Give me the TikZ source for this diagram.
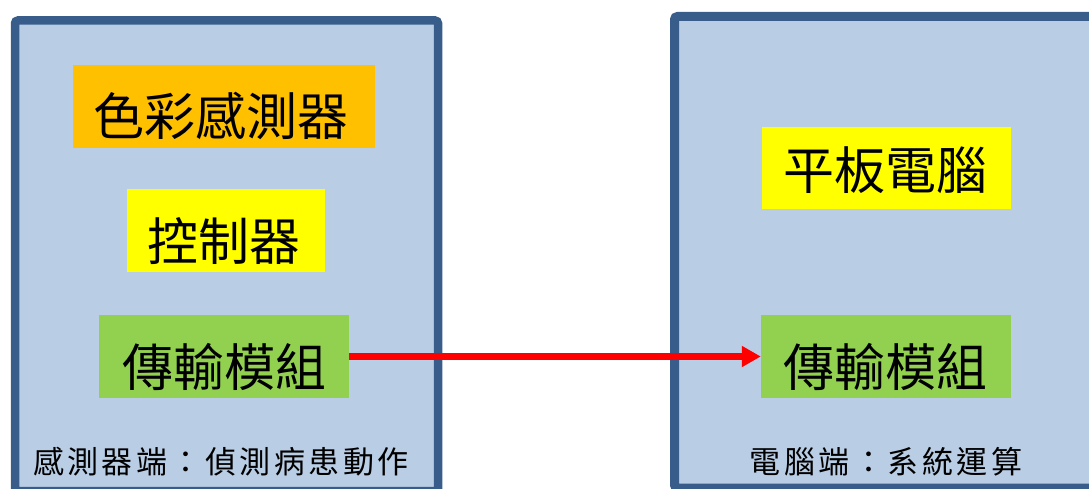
\documentclass[tikz,border=0pt]{standalone}
\usepackage{fontspec}
\newfontfamily\cjk{Noto Sans CJK TC}
\usetikzlibrary{arrows.meta}
\definecolor{panelfill}{HTML}{B9CDE5}
\definecolor{panelline}{HTML}{385D8A}
\definecolor{boxorange}{HTML}{FFC000}
\definecolor{boxyellow}{HTML}{FFFF00}
\definecolor{boxgreen}{HTML}{92D050}
\definecolor{arrowred}{HTML}{FF0000}
\newcommand{\gp}{\hspace{3.5pt}}
\begin{document}
\begin{tikzpicture}[x=1pt,y=-1pt,
  panel/.style={fill=panelfill,draw=panelline,rounded corners=3pt},
  blk/.style={rectangle,inner sep=0pt,draw=none},
  bigtext/.style={inner sep=0pt,font=\cjk\fontsize{51}{51}\selectfont},
  captext/.style={inner sep=0pt,font=\cjk\fontsize{31}{31}\selectfont},
  link/.style={draw=arrowred,line width=7pt,-{Triangle[length=19pt,width=20pt]}}
]
\useasboundingbox (0,0) rectangle (1089,489);
\clip (0,0) rectangle (1089,489);
% panels
\draw[panel,line width=8.5pt] (15,20.5) rectangle (438,491);
\draw[panel,line width=9pt] (674.5,16.5) rectangle (1110,488);
% boxes
\node[blk,fill=boxorange,minimum width=302pt,minimum height=83pt] (sensor) at (224,106.5) {};
\node[blk,fill=boxyellow,minimum width=198pt,minimum height=83pt] (ctrl) at (226,230.5) {};
\node[blk,fill=boxgreen,minimum width=250pt,minimum height=83pt] (txl) at (224,356.5) {};
\node[blk,fill=boxyellow,minimum width=249pt,minimum height=82pt] (tablet) at (886.5,168) {};
\node[blk,fill=boxgreen,minimum width=250pt,minimum height=83pt] (txr) at (886,356.5) {};
% box texts
\node[bigtext] (sensorT) at (221,116) {色彩感測器};
\node[bigtext] (ctrlT) at (224,241) {控制器};
\node[bigtext] (txlT) at (224.5,367) {傳輸模組};
\node[bigtext] (tabletT) at (885.5,170) {平板電腦};
\node[bigtext] (txrT) at (885,367) {傳輸模組};
% captions
\node[captext] (capL) at (221,461.5) {感\gp 測\gp 器\gp 端\gp ：\gp 偵\gp 測\gp 病\gp 患\gp 動\gp 作};
\node[captext] (capR) at (886,461.5) {電\gp 腦\gp 端\gp ：\gp 系\gp 統\gp 運\gp 算};
% arrow
\draw[link] (txl.east) -- (txr.west);
\end{tikzpicture}
\end{document}
